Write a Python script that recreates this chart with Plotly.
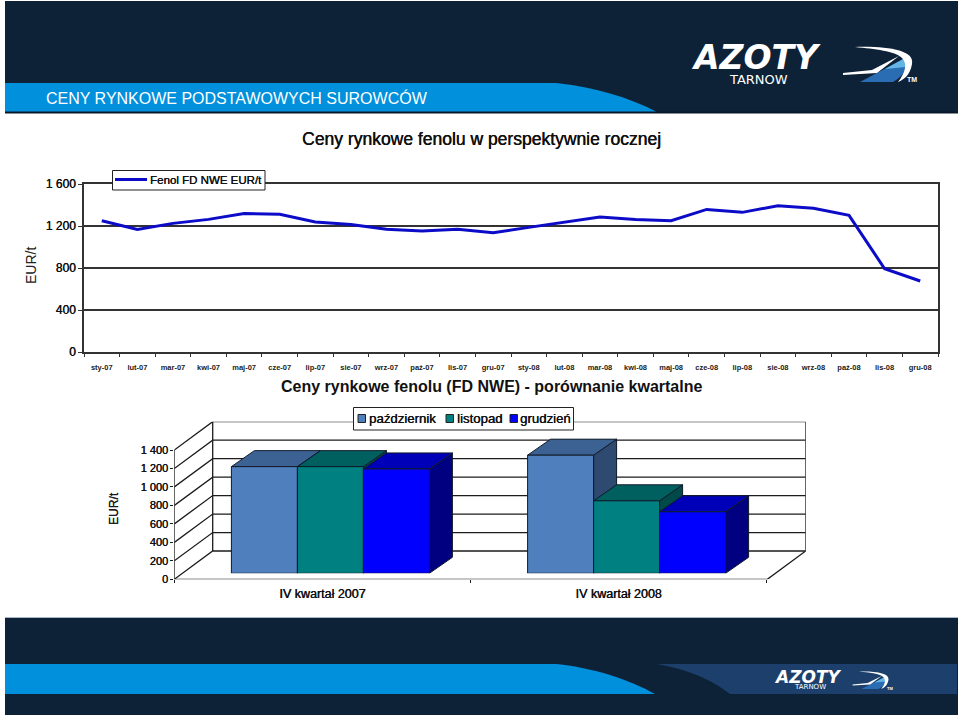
import plotly.graph_objects as go

W, H = 960, 717
FONT = "Liberation Sans"
INK = "#1c1c1c"

# ---------- data ----------
months = ["sty-07","lut-07","mar-07","kwi-07","maj-07","cze-07","lip-07","sie-07","wrz-07","paź-07","lis-07","gru-07",
          "sty-08","lut-08","mar-08","kwi-08","maj-08","cze-08","lip-08","sie-08","wrz-08","paź-08","lis-08","gru-08"]
fenol = [1250,1168,1225,1263,1320,1311,1238,1215,1168,1152,1168,1136,
         1187,1234,1285,1263,1250,1358,1330,1393,1368,1301,793,676]
top_ticks = [0,400,800,1200,1600]
top_tick_text = ["0","400","800","1 200","1 600"]

quarters = ["IV kwartał 2007","IV kwartał 2008"]
pazdziernik = [1155,1279]
listopad = [1155,785]
grudzien = [1130,666]
bottom_ticks = [0,200,400,600,800,1000,1200,1400]
bottom_tick_text = ["0","200","400","600","800","1 000","1 200","1 400"]

# ---------- layout helpers ----------
def px(x): return x / W
def py(y): return 1 - y / H

def path(cmds, ox=0.0, oy=0.0, s=1.0, t=1.0, base=(0,0)):
    out = []
    for c in cmds:
        if isinstance(c, str):
            out.append(c)
        else:
            out.append(f"{px(ox + (c[0]-base[0])*s):.5f},{py(oy + (c[1]-base[1])*t):.5f}")
    return " ".join(out)

def fill_shape(d, color):
    return dict(type="path", xref="paper", yref="paper", path=d, fillcolor=color,
                line=dict(width=0), layer="below")

def rect(x0, y0, x1, y1, color, layer="below", line=None):
    return dict(type="rect", xref="paper", yref="paper", x0=px(x0), x1=px(x1), y0=py(y0), y1=py(y1),
                fillcolor=color, line=line or dict(width=0), layer=layer)

SOFT = "0.35px 0 0 currentcolor"
def note(text, x, y, size, color=INK, anchor="center", weight="normal", angle=0, family=FONT, style="normal", shadow="none"):
    return dict(text=text, x=px(x), y=py(y), xref="paper", yref="paper", showarrow=False,
                xanchor=anchor, yanchor="middle", textangle=angle,
                font=dict(family=family, size=size, color=color, weight=weight, style=style, shadow=shadow))

NAVY = "#0d2237"
CYAN = "#0090dc"
LINE_BLUE = "#0c0cc8"
shapes = [
    rect(5, 1, 958, 113, NAVY),
    rect(5, 111.5, 958, 113.5, "#08182a"),
    fill_shape(path(["M",(5,83),"L",(556,83),"C",(595,87),(630,98),(656,111.5),"L",(5,111.5),"Z"]), CYAN),
    rect(5, 618, 958, 715, NAVY),
    rect(5, 617, 958, 618, "#a9b8c6"),
    fill_shape(path(["M",(657,664),"L",(957,664),"L",(957,694),"L",(730,694),"C",(712,680),(690,670),(657,664),"Z"]), "#1d3f6c"),
    fill_shape(path(["M",(5,664),"L",(556,664),"C",(595,668),(630,680),(655,694),"L",(5,694),"Z"]), CYAN),
]

# logo swoosh, in header pixels; re-used at a smaller scale in the footer
arc = ["M",(855,47),"C",(887,46),(915,50),(912,64),"C",(910,76),(903,80),(898,82),"C",(905,73),(908,64),(902,58),"C",(895,51),(875,49),(855,47),"Z"]
wedge = ["M",(860,82),"L",(905,58),"C",(909,66),(904,76),(893,82),"Z"]
wedge_light = ["M",(885,69),"L",(905,58),"C",(907,61),(907,64),(906,67),"Z"]
blade = ["M",(843,73),"L",(872,70),"L",(899,56),"L",(877,73),"L",(843,75),"Z"]
for s, t, ox, oy, bx, by in [(1.0, 1.0, 690, 48, 690, 48), (0.52, 0.5, 773, 672, 690, 48)]:
    kw = dict(ox=ox, oy=oy, s=s, t=t, base=(bx, by))
    shapes += [fill_shape(path(wedge, **kw), "#2a6db3"),
               fill_shape(path(wedge_light, **kw), "#63b5e6"),
               fill_shape(path(arc, **kw), "white"),
               fill_shape(path(blade, **kw), "white")]

annotations = [
    note("CENY RYNKOWE PODSTAWOWYCH SUROWCÓW", 44, 97.5, 16, "white", "left"),
    note("AZOTY", 689, 58, 33, "white", "left", "bold", family="DejaVu Sans", style="italic"),
    note("TARNOW", 727, 79, 13, "white", "left", family="DejaVu Sans"),
    note("TM", 905, 79, 7, "white", "left", "bold"),
    note("AZOTY", 772, 677, 17, "white", "left", "bold", family="DejaVu Sans", style="italic"),
    note("TARNOW", 792, 687, 7, "white", "left", family="DejaVu Sans"),
    note("TM", 885, 688, 4, "white", "left", "bold"),
    note("Ceny rynkowe fenolu w perspektywnie rocznej", 481, 139, 17.5, "#111", shadow=SOFT),
    note("Ceny rynkowe fenolu (FD NWE) - porównanie kwartalne", 491, 386, 16, "#111", weight="bold"),
    note("EUR/t", 31, 266, 14, "#222", angle=-90),
    note("EUR/t", 114, 509, 12, "#222", shadow=SOFT, angle=-90),
]

# hand-placed legends: box and swatches are far tighter than a native legend allows
line_name = "Fenol FD NWE EUR/t"
legend_entries = ["październik", "listopad", "grudzień"]
shapes.append(rect(112.5, 170.5, 265, 190, "white", "above", dict(color="#222", width=1)))
shapes.append(dict(type="line", xref="paper", yref="paper", x0=px(115), x1=px(147), y0=py(179.5), y1=py(179.5),
                   line=dict(color=LINE_BLUE, width=3), layer="above"))
annotations.append(note(line_name, 147.5, 180, 11.5, "#111", "left", shadow=SOFT))
shapes.append(rect(353.5, 407.5, 573.5, 430, "white", "above", dict(color="#222", width=1)))

fig = go.Figure()

# ---------- upper line chart ----------
fig.add_trace(go.Scatter(x=list(range(len(months))), y=fenol, mode="lines", name=line_name, showlegend=False,
                         line=dict(color=LINE_BLUE, width=3), xaxis="x", yaxis="y"))

# ---------- lower pseudo-3D column chart ----------
FRONT_L, FRONT_R, BACK_R = 174.3, 766.7, 805.7
FLOOR_Y, TOP_Y, V14_Y = 579.3, 421.7, 450.0
UNIT_X = (FRONT_R - FRONT_L) / len(quarters)      # px per category
UNIT_Y = (FLOOR_Y - V14_Y) / 1400                 # px per EUR
X_MAX = (BACK_R - FRONT_L) / UNIT_X
Y_MAX = (FLOOR_Y - TOP_Y) / UNIT_Y
WALL_DX = 38.4 / UNIT_X
WALL_DY = 28.3 / UNIT_Y
BAR_DX = 23 / UNIT_X
BAR_DY = 16 / UNIT_Y
SHIFT_X, SHIFT_Y = 8.0, 6.0
BAR_W = 66 / UNIT_X
GAP = 1 - 3 * BAR_W

wall = dict(mode="lines", line=dict(color=INK, width=1.3), hoverinfo="skip", showlegend=False, xaxis="x2", yaxis="y2")
for v in bottom_ticks:
    fig.add_trace(go.Scatter(x=[0, WALL_DX, X_MAX], y=[v, v + WALL_DY, v + WALL_DY], **wall))
fig.add_trace(go.Scatter(x=[0, 0], y=[0, bottom_ticks[-1]], **wall))
fig.add_trace(go.Scatter(x=[WALL_DX, WALL_DX], y=[WALL_DY, Y_MAX], **wall))
fig.add_trace(go.Scatter(x=[X_MAX, X_MAX, X_MAX - WALL_DX, 0], y=[Y_MAX, WALL_DY, 0, 0], **wall))

series = [("październik", pazdziernik, "#4f80bd", "#3c6294", "#2f4a70"),
          ("listopad", listopad, "#008080", "#006060", "#004a4a"),
          ("grudzień", grudzien, "#0000ff", "#0000b8", "#000080")]
edge = dict(color="#101a28", width=1)
for g in range(len(quarters)):
    for s, (name, vals, front, top, side) in enumerate(series):
        x0 = g + 0.5 + (s - 1.5) * BAR_W
        x1 = x0 + BAR_W
        v = vals[g]
        fig.add_trace(go.Scatter(x=[x1, x1 + BAR_DX, x1 + BAR_DX, x1, x1], y=[0, BAR_DY, v + BAR_DY, v, 0],
                                 mode="lines", fill="toself", fillcolor=side, line=edge, hoverinfo="skip",
                                 showlegend=False, xaxis="x3", yaxis="y3"))
        fig.add_trace(go.Scatter(x=[x0, x1, x1 + BAR_DX, x0 + BAR_DX, x0], y=[v, v, v + BAR_DY, v + BAR_DY, v],
                                 mode="lines", fill="toself", fillcolor=top, line=edge, hoverinfo="skip",
                                 showlegend=False, xaxis="x3", yaxis="y3"))
for name, vals, front, top, side in series:
    fig.add_trace(go.Bar(x=[i + 0.5 for i in range(len(quarters))], y=vals, name=name, showlegend=False,
                         marker=dict(color=front, line=edge), xaxis="x4", yaxis="y4"))

for entry, (sx, tx), (_, _, front, _, _) in zip(legend_entries, [(358, 367), (446, 455), (510, 518)], series):
    shapes.append(rect(sx, 414.5, sx + 7.5, 422.5, front, "above", dict(color="#222", width=1)))
    annotations.append(note(entry, tx, 418.5, 13.2, "#111", "left", shadow=SOFT))

hidden = dict(visible=False, fixedrange=True, automargin=False)
lower_x = [px(FRONT_L), px(BACK_R)]
lower_y = [py(FLOOR_Y), py(TOP_Y)]
shift_x = [px(FRONT_L + SHIFT_X), px(BACK_R + SHIFT_X)]
shift_y = [py(FLOOR_Y - SHIFT_Y), py(TOP_Y - SHIFT_Y)]

fig.update_layout(
    width=W, height=H, margin=dict(l=0, r=0, t=0, b=0), autosize=False,
    paper_bgcolor="white", plot_bgcolor="rgba(0,0,0,0)", showlegend=False,
    barmode="group", bargap=GAP, bargroupgap=0, hovermode=False,
    shapes=shapes, annotations=annotations,
    xaxis=dict(domain=[px(84), px(938)], range=[-0.5, len(months) - 0.5], tickmode="array", automargin=False,
               tickvals=list(range(len(months))), ticktext=months, ticks="", ticklabelstandoff=7,
               tickangle=0,
               tickfont=dict(family=FONT, size=7.5, color="#222", weight="bold"), showgrid=False, zeroline=False,
               showline=True, linecolor="#333", linewidth=1.6, mirror=True, anchor="y",
               minor=dict(tickmode="array", tickvals=[i - 0.5 for i in range(len(months) + 1)], ticks="outside",
                          ticklen=3, tickcolor="#333", tickwidth=1, showgrid=False)),
    yaxis=dict(domain=[py(352), py(184)], range=[0, 1600], tickmode="array", tickvals=top_ticks, automargin=False,
               ticktext=top_tick_text, ticks="outside", ticklen=4, tickcolor="#333",
               tickfont=dict(family=FONT, size=12, color="#111", shadow=SOFT),
               showgrid=True, gridcolor="#333", gridwidth=1.5, zeroline=False, showline=True, linecolor="#333",
               linewidth=1.6, mirror=True, anchor="x"),
    xaxis2=dict(domain=lower_x, range=[0, X_MAX], tickmode="array", tickvals=[i + 0.5 for i in range(len(quarters))],
                ticktext=quarters, ticks="", ticklabelstandoff=5, tickfont=dict(family=FONT, size=12.5, color="#111", shadow=SOFT),
                showgrid=False, zeroline=False, showline=False, anchor="y2", automargin=False,
                minor=dict(tickmode="array", tickvals=[i for i in range(len(quarters) + 1)], ticks="outside",
                           ticklen=3, tickcolor=INK, tickwidth=1, showgrid=False)),
    yaxis2=dict(domain=lower_y, range=[0, Y_MAX], tickmode="array", tickvals=bottom_ticks, ticktext=bottom_tick_text,
                ticks="outside", ticklen=3, tickcolor=INK, tickfont=dict(family=FONT, size=11, color="#111", shadow=SOFT),
                showgrid=False, zeroline=False, showline=False, anchor="x2", automargin=False),
    xaxis3=dict(domain=shift_x, range=[0, X_MAX], anchor="y3", **hidden),
    yaxis3=dict(domain=shift_y, range=[0, Y_MAX], anchor="x3", **hidden),
    xaxis4=dict(overlaying="x3", range=[0, X_MAX], anchor="y4", **hidden),
    yaxis4=dict(overlaying="y3", range=[0, Y_MAX], anchor="x4", **hidden),
)
fig.write_html("out.html", config=dict(displayModeBar=False),
               post_script="document.body.style.margin='0';document.documentElement.style.overflow='hidden';")
